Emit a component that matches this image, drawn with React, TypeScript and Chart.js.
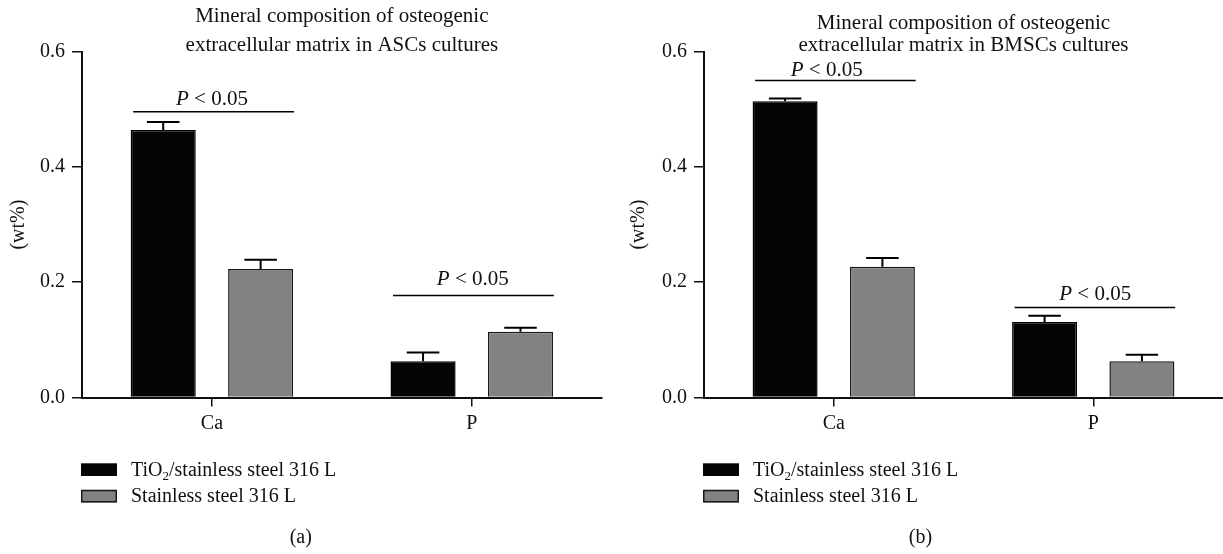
import React, { useEffect, useRef } from 'react';
import { Chart, registerables } from 'chart.js';

Chart.register(...registerables);

const categories = ['Ca', 'P'];
const seriesNames = ['TiO2/stainless steel 316 L', 'Stainless steel 316 L'];
const seriesColors = ['#050505', '#828282'];

const ascTiO2 = [0.464, 0.063];
const ascTiO2Err = [0.014, 0.015];
const ascSteel = [0.223, 0.114];
const ascSteelErr = [0.016, 0.007];

const bmscTiO2 = [0.514, 0.131];
const bmscTiO2Err = [0.005, 0.011];
const bmscSteel = [0.227, 0.063];
const bmscSteelErr = [0.015, 0.011];

const ascSig = [0.496, 0.177];
const bmscSig = [0.55, 0.156];

const yMin = 0;
const yMax = 0.6;
const yStep = 0.2;

const ascTitle = ['Mineral composition of osteogenic', 'extracellular matrix in ASCs cultures'];
const bmscTitle = ['Mineral composition of osteogenic', 'extracellular matrix in BMSCs cultures'];
const yLabel = '(wt%)';
const panelLabels = ['(a)', '(b)'];

const FONT = '"Liberation Serif", "Times New Roman", serif';
const INK = '#111111';

type PanelProps = {
  left: number;
  width: number;
  chartLeft: number;
  padRight: number;
  titleLines: string[];
  titleYs: number[];
  tio2: number[];
  tio2Err: number[];
  steel: number[];
  steelErr: number[];
  sig: number[];
  sigGap: number[];
  sigDx: number[];
  yLabelX: number;
  panelLabel: string;
  panelLabelX: number;
};

function Panel(p: PanelProps) {
  const ref = useRef<HTMLCanvasElement | null>(null);

  useEffect(() => {
    if (!ref.current) return;
    const H = 554;
    const chartTop = 51.7;
    const chartBottom = 397.5;
    const xAxisH = 40;

    const decor = {
      id: 'decor',
      afterDatasetsDraw(chart: any) {
        const ctx = chart.ctx;
        const ys = chart.scales.y;
        chart.data.datasets.forEach((ds: any, i: number) => {
          const meta = chart.getDatasetMeta(i);
          meta.data.forEach((bar: any, j: number) => {
            const top = ys.getPixelForValue(ds.data[j] + ds.errors[j]);
            const half = bar.width / 4;
            ctx.save();
            ctx.strokeStyle = '#000';
            ctx.lineWidth = 2;
            ctx.beginPath();
            ctx.moveTo(bar.x, bar.y);
            ctx.lineTo(bar.x, top);
            ctx.moveTo(bar.x - half, top);
            ctx.lineTo(bar.x + half, top);
            ctx.stroke();
            ctx.restore();
          });
        });
      },
      afterDraw(chart: any) {
        const ctx = chart.ctx;
        const ca = chart.chartArea;
        const ys = chart.scales.y;
        const cx = (ca.left + ca.right) / 2;
        ctx.save();
        ctx.fillStyle = INK;
        // title
        ctx.font = `21px ${FONT}`;
        ctx.textAlign = 'center';
        ctx.textBaseline = 'middle';
        p.titleLines.forEach((t, i) => ctx.fillText(t, cx, p.titleYs[i]));
        // y label
        ctx.font = `20px ${FONT}`;
        ctx.save();
        ctx.translate(p.yLabelX, (ca.top + ca.bottom) / 2);
        ctx.rotate(-Math.PI / 2);
        ctx.fillText(yLabel, 0, 0);
        ctx.restore();
        // significance
        const m0 = chart.getDatasetMeta(0);
        const m1 = chart.getDatasetMeta(1);
        p.sig.forEach((v, j) => {
          const b0 = m0.data[j];
          const b1 = m1.data[j];
          const x1 = b0.x - b0.width / 2 + 2.5;
          const x2 = b1.x + b1.width / 2 + 0.8;
          const y = ys.getPixelForValue(v);
          ctx.strokeStyle = '#000';
          ctx.lineWidth = 1.5;
          ctx.beginPath();
          ctx.moveTo(x1, y);
          ctx.lineTo(x2, y);
          ctx.stroke();
          const c = (b0.x + b1.x) / 2 + p.sigDx[j];
          ctx.textAlign = 'left';
          ctx.textBaseline = 'alphabetic';
          ctx.font = `italic 21px ${FONT}`;
          const wP = ctx.measureText('P').width;
          ctx.font = `21px ${FONT}`;
          const rest = ' < 0.05';
          const wR = ctx.measureText(rest).width;
          const sx = c - (wP + wR) / 2;
          const by = y - p.sigGap[j];
          ctx.font = `italic 21px ${FONT}`;
          ctx.fillText('P', sx, by);
          ctx.font = `21px ${FONT}`;
          ctx.fillText(rest, sx + wP, by);
        });
        // legend
        const boxX = ca.left - 1;
        const boxYs = [463.3, 489.8];
        const boxW = 36;
        const boxH = 12.7;
        boxYs.forEach((by, i) => {
          ctx.fillStyle = seriesColors[i];
          ctx.fillRect(boxX, by, boxW, boxH);
          if (i === 1) {
            ctx.strokeStyle = '#1a1a1a';
            ctx.lineWidth = 1.5;
            ctx.strokeRect(boxX + 0.75, by + 0.75, boxW - 1.5, boxH - 1.5);
          }
          ctx.fillStyle = INK;
          ctx.textAlign = 'left';
          ctx.textBaseline = 'middle';
          const tx = boxX + 50;
          const ty = by + boxH / 2 + 1;
          const name = seriesNames[i];
          if (name.startsWith('TiO2')) {
            ctx.font = `20px ${FONT}`;
            ctx.fillText('TiO', tx, ty);
            const w1 = ctx.measureText('TiO').width;
            ctx.font = `13px ${FONT}`;
            ctx.fillText('2', tx + w1, ty + 6);
            const w2 = ctx.measureText('2').width;
            ctx.font = `20px ${FONT}`;
            ctx.fillText(name.slice(4), tx + w1 + w2, ty);
          } else {
            ctx.font = `20px ${FONT}`;
            ctx.fillText(name, tx, ty);
          }
        });
        // panel label
        ctx.font = `20px ${FONT}`;
        ctx.textAlign = 'center';
        ctx.textBaseline = 'middle';
        ctx.fillText(p.panelLabel, p.panelLabelX, 538);
        ctx.restore();
      },
    };

    const chart = new Chart(ref.current, {
      type: 'bar',
      data: {
        labels: categories,
        datasets: [
          {
            label: seriesNames[0],
            data: p.tio2,
            errors: p.tio2Err,
            backgroundColor: seriesColors[0],
            borderColor: '#000',
            borderWidth: 1.5,
            categoryPercentage: 0.75,
            barPercentage: 0.668,
          } as any,
          {
            label: seriesNames[1],
            data: p.steel,
            errors: p.steelErr,
            backgroundColor: seriesColors[1],
            borderColor: '#1a1a1a',
            borderWidth: 1.5,
            categoryPercentage: 0.75,
            barPercentage: 0.668,
          } as any,
        ],
      },
      options: {
        animation: false,
        responsive: false,
        maintainAspectRatio: false,
        layout: {
          padding: { left: 0, right: p.padRight, top: chartTop, bottom: H - chartBottom - xAxisH },
        },
        plugins: {
          legend: { display: false },
          title: { display: false },
          tooltip: { enabled: false },
        },
        scales: {
          x: {
            offset: true,
            afterFit: (s: any) => {
              s.height = xAxisH;
            },
            grid: {
              offset: false,
              drawOnChartArea: false,
              drawTicks: true,
              tickLength: 9,
              color: '#111',
              lineWidth: 1.5,
            },
            border: { display: true, color: '#111', width: 2 },
            ticks: { color: INK, font: { family: FONT, size: 20 }, padding: 5 },
          },
          y: {
            min: yMin,
            max: yMax,
            afterFit: (s: any) => {
              s.width = p.chartLeft;
            },
            grid: {
              drawOnChartArea: false,
              drawTicks: true,
              tickLength: 10,
              color: '#111',
              lineWidth: 1.5,
            },
            border: { display: true, color: '#111', width: 2 },
            ticks: {
              stepSize: yStep,
              color: INK,
              font: { family: FONT, size: 20 },
              padding: 7,
              callback: (v: any) => Number(v).toFixed(1),
            },
          },
        },
      },
      plugins: [decor],
    } as any);
    return () => chart.destroy();
  }, []);

  return (
    <canvas
      ref={ref}
      width={p.width}
      height={554}
      style={{ position: 'absolute', left: p.left, top: 0, width: p.width, height: 554 }}
    />
  );
}

export default function App() {
  return (
    <div style={{ position: 'absolute', left: 0, top: 0, width: 1223, height: 554, background: '#fff', overflow: 'hidden' }}>
      <Panel
        left={0}
        width={612}
        chartLeft={82}
        padRight={10.3}
        titleLines={ascTitle}
        titleYs={[16, 45.7]}
        tio2={ascTiO2}
        tio2Err={ascTiO2Err}
        steel={ascSteel}
        steelErr={ascSteelErr}
        sig={ascSig}
        sigGap={[6.7, 10.7]}
        sigDx={[0, 1]}
        yLabelX={19}
        panelLabel={panelLabels[0]}
        panelLabelX={300.8}
      />
      <Panel
        left={612}
        width={611}
        chartLeft={92}
        padRight={0}
        titleLines={bmscTitle}
        titleYs={[23.3, 45]}
        tio2={bmscTiO2}
        tio2Err={bmscTiO2Err}
        steel={bmscSteel}
        steelErr={bmscSteelErr}
        sig={bmscSig}
        sigGap={[4.5, 7.5]}
        sigDx={[-7, 2]}
        yLabelX={27.2}
        panelLabel={panelLabels[1]}
        panelLabelX={308.5}
      />
    </div>
  );
}
